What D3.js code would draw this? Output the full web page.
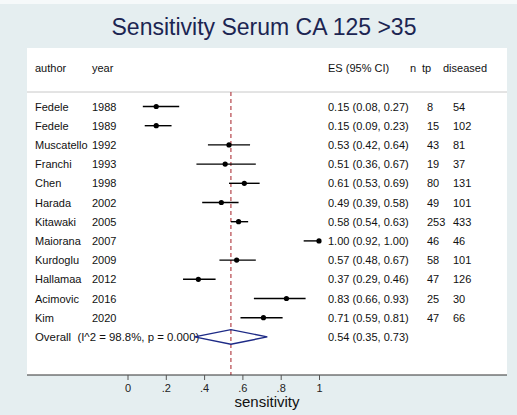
<!DOCTYPE html>
<html>
<head>
<meta charset="utf-8">
<script src="https://cdn.jsdelivr.net/npm/d3@7"></script>
<style>
  body { margin: 0; background: #ffffff; }
  text { font-family: "Liberation Sans", Arial, sans-serif; }
</style>
</head>
<body>
<div id="chart"></div>
<script>
"use strict";

// study data
var authors  = ["Fedele", "Fedele", "Muscatello", "Franchi", "Chen", "Harada", "Kitawaki", "Maiorana", "Kurdoglu", "Hallamaa", "Acimovic", "Kim"];
var years    = [1988, 1989, 1992, 1993, 1998, 2002, 2005, 2007, 2009, 2012, 2016, 2020];
var es       = [0.15, 0.15, 0.53, 0.51, 0.61, 0.49, 0.58, 1.00, 0.57, 0.37, 0.83, 0.71];
var lo       = [0.08, 0.09, 0.42, 0.36, 0.53, 0.39, 0.54, 0.92, 0.48, 0.29, 0.66, 0.59];
var hi       = [0.27, 0.23, 0.64, 0.67, 0.69, 0.58, 0.63, 1.00, 0.67, 0.46, 0.93, 0.81];
var tp       = [8, 15, 43, 19, 80, 49, 253, 46, 58, 47, 25, 47];
var diseased = [54, 102, 81, 37, 131, 101, 433, 46, 101, 126, 30, 66];
var overall  = { es: 0.54, lo: 0.35, hi: 0.73, label: "Overall  (I^2 = 98.8%, p = 0.000)" };
var xTicks   = [0, 0.2, 0.4, 0.6, 0.8, 1];

var W = 517, H = 415;
var panel = { left: 27, right: 507, top: 48, bottom: 375 };

var svg = d3.select("#chart").append("svg")
  .attr("width", W)
  .attr("height", H);

// outer background and white plot panel
svg.append("rect").attr("x", 0).attr("y", 0).attr("width", W).attr("height", H).attr("fill", "#e5eef0");
svg.append("rect").attr("x", 0).attr("y", 0).attr("width", W).attr("height", 4).attr("fill", "#f6f9fa");
svg.append("rect")
  .attr("x", panel.left).attr("y", panel.top)
  .attr("width", panel.right - panel.left).attr("height", panel.bottom - panel.top)
  .attr("fill", "#ffffff");

// title
svg.append("text")
  .attr("x", 264).attr("y", 35)
  .attr("text-anchor", "middle")
  .style("font-size", "23px")
  .attr("fill", "#1c2552")
  .text("Sensitivity Serum CA 125 >35");

// scales
var x = d3.scaleLinear().domain([0, 1]).range([127.5, 319]);
var y = d3.scaleLinear().domain([0, 1]).range([106.5, 125.7]);   // one row = one unit
var rows = d3.range(authors.length);

// header row
var header = svg.append("g").style("font-size", "11px").attr("fill", "#111");
header.append("text").attr("x", 35).attr("y", 72).text("author");
header.append("text").attr("x", 92).attr("y", 72).text("year");
header.append("text").attr("x", 328).attr("y", 72).text("ES (95% CI)");
header.append("text").attr("x", 410).attr("y", 72).text("n");
header.append("text").attr("x", 422).attr("y", 72).text("tp");
header.append("text").attr("x", 443).attr("y", 72).text("diseased");

svg.append("line")
  .attr("x1", panel.left).attr("x2", panel.right)
  .attr("y1", 92).attr("y2", 92)
  .attr("stroke", "#c8c8c8").attr("stroke-width", 1);

// dashed line at overall estimate
svg.append("line")
  .attr("x1", x(overall.es)).attr("x2", x(overall.es))
  .attr("y1", 92).attr("y2", panel.bottom)
  .attr("stroke", "#b5444a").attr("stroke-width", 1.2)
  .attr("stroke-dasharray", "4,3");

// study rows
var fmt = d3.format(".2f");
var body = svg.append("g").style("font-size", "11px").attr("fill", "#111");

body.selectAll(".author").data(rows).join("text")
  .attr("class", "author")
  .attr("x", 35).attr("y", i => y(i) + 4)
  .text(i => authors[i]);

body.selectAll(".year").data(rows).join("text")
  .attr("class", "year")
  .attr("x", 92).attr("y", i => y(i) + 4)
  .text(i => years[i]);

body.selectAll(".es").data(rows).join("text")
  .attr("class", "es")
  .attr("x", 328).attr("y", i => y(i) + 4)
  .text(i => fmt(es[i]) + " (" + fmt(lo[i]) + ", " + fmt(hi[i]) + ")");

body.selectAll(".tp").data(rows).join("text")
  .attr("class", "tp")
  .attr("x", 427).attr("y", i => y(i) + 4)
  .text(i => tp[i]);

body.selectAll(".dis").data(rows).join("text")
  .attr("class", "dis")
  .attr("x", 453).attr("y", i => y(i) + 4)
  .text(i => diseased[i]);

// confidence intervals and point estimates
var marks = svg.append("g");
marks.selectAll(".ci").data(rows).join("line")
  .attr("class", "ci")
  .attr("x1", i => x(lo[i])).attr("x2", i => x(hi[i]))
  .attr("y1", i => y(i)).attr("y2", i => y(i))
  .attr("stroke", "#000").attr("stroke-width", 1.4);

marks.selectAll(".pt").data(rows).join("circle")
  .attr("class", "pt")
  .attr("cx", i => x(es[i])).attr("cy", i => y(i))
  .attr("r", 2.6)
  .attr("fill", "#000");

// overall row
var yo = y(authors.length);
body.append("text").attr("x", 35).attr("y", yo + 4)
  .style("white-space", "pre")
  .style("font-size", "11.4px")
  .text(overall.label);
body.append("text").attr("x", 328).attr("y", yo + 4)
  .text(fmt(overall.es) + " (" + fmt(overall.lo) + ", " + fmt(overall.hi) + ")");

svg.append("polygon")
  .attr("points", [
    [x(overall.lo), yo], [x(overall.es), yo - 7.3],
    [x(overall.hi), yo], [x(overall.es), yo + 7.3]
  ].map(p => p.join(",")).join(" "))
  .attr("fill", "none")
  .attr("stroke", "#1d2a86").attr("stroke-width", 1.4);

// x axis
svg.append("line")
  .attr("x1", panel.left).attr("x2", panel.right)
  .attr("y1", panel.bottom).attr("y2", panel.bottom)
  .attr("stroke", "#333").attr("stroke-width", 1.2);

var xAxis = d3.axisBottom(x)
  .tickValues(xTicks)
  .tickSize(5)
  .tickPadding(4)
  .tickFormat(d => d === 0 ? "0" : d === 1 ? "1" : d3.format(".1f")(d).replace(/^0/, ""));

var axisG = svg.append("g")
  .attr("transform", "translate(0," + panel.bottom + ")")
  .call(xAxis);
axisG.select(".domain").remove();
axisG.selectAll(".tick line").attr("stroke", "#555");
axisG.selectAll(".tick text")
  .style("font-size", "11px")
  .style("font-family", "'Liberation Sans', Arial, sans-serif")
  .attr("fill", "#222");

svg.append("text")
  .attr("x", 267).attr("y", 407)
  .attr("text-anchor", "middle")
  .style("font-size", "15px")
  .attr("fill", "#111")
  .text("sensitivity");
</script>
</body>
</html>
